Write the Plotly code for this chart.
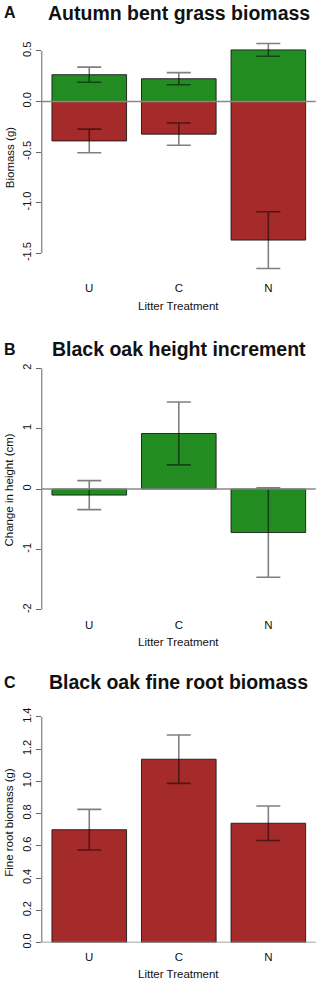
import plotly.graph_objects as go

W, H = 319, 988

categories = ["U", "C", "N"]
x_pos = [0.7, 1.9, 3.1]

# Panel A: Autumn bent grass biomass
a_green = [0.265, 0.225, 0.51]
a_green_err = [0.075, 0.06, 0.063]
a_red = [-0.39, -0.323, -1.37]
a_red_err = [0.117, 0.11, 0.28]
a_ticks = [0.5, 0.0, -0.5, -1.0, -1.5]
a_ticktext = ["0.5", "0.0", "-0.5", "-1.0", "-1.5"]

# Panel B: Black oak height increment
b_vals = [-0.1, 0.92, -0.72]
b_err = [0.24, 0.52, 0.74]
b_ticks = [2, 1, 0, -1, -2]
b_ticktext = ["2", "1", "0", "-1", "-2"]

# Panel C: Black oak fine root biomass
c_vals = [0.70, 1.137, 0.74]
c_err = [0.126, 0.15, 0.107]
c_ticks = [0.0, 0.2, 0.4, 0.6, 0.8, 1.0, 1.2, 1.4]
c_ticktext = ["0.0", "0.2", "0.4", "0.6", "0.8", "1.0", "1.2", "1.4"]

GREEN = "#228B22"
RED = "#A52A2A"
ERR = "rgba(0,0,0,0.5)"
OUTLINE = "rgba(20,20,20,0.85)"
AXIS = "#666666"
FONT = "Liberation Sans, Arial, sans-serif"


def px(x):
    return x / W


def py(y):
    return 1 - y / H


x_dom = [px(41.8), px(315.8)]
x_rng = [0.064, 3.736]

panels = [
    # (yrange, top_px, bottom_px)
    ([-1.70, 0.62], 37.06, 273.7),
    ([-2.0, 2.05], 366.2, 612.8),
    ([0.0, 1.45], 712.5, 948.3),
]

fig = go.Figure()


def bar(x, y, err, color, xa, ya):
    return go.Bar(
        x=x, y=y, width=1.0, marker=dict(color=color, line=dict(color=OUTLINE, width=1)),
        error_y=dict(type="data", array=err, visible=True, color=ERR, thickness=1.6, width=12),
        xaxis=xa, yaxis=ya, showlegend=False,
    )


fig.add_trace(bar(x_pos, a_green, a_green_err, GREEN, "x", "y"))
fig.add_trace(bar(x_pos, a_red, a_red_err, RED, "x", "y"))
fig.add_trace(bar(x_pos, b_vals, b_err, GREEN, "x2", "y2"))
fig.add_trace(bar(x_pos, c_vals, c_err, RED, "x3", "y3"))

tick_sets = [(a_ticks, a_ticktext), (b_ticks, b_ticktext), (c_ticks, c_ticktext)]

layout = dict(
    width=W, height=H, margin=dict(l=0, r=0, t=0, b=0),
    paper_bgcolor="white", plot_bgcolor="white",
    barmode="overlay", showlegend=False,
    font=dict(family=FONT, color="#111111"),
)

shapes = []
for i, ((yr, top, bot), (tv, tt)) in enumerate(zip(panels, tick_sets)):
    n = "" if i == 0 else str(i + 1)
    layout["xaxis" + n] = dict(
        domain=x_dom, range=x_rng, anchor="y" + n,
        tickvals=x_pos, ticktext=categories, ticks="outside", ticklen=4,
        tickcolor="rgba(0,0,0,0)", showline=False, showgrid=False, zeroline=False,
        tickfont=dict(size=11.5, color="#111111", family=FONT), fixedrange=True,
    )
    layout["yaxis" + n] = dict(
        domain=[py(bot), py(top)], range=yr, anchor="x" + n,
        tickvals=tv, ticktext=tt, ticks="outside", ticklen=5, tickcolor=AXIS,
        tickangle=-90, showline=False, showgrid=False, zeroline=False,
        tickfont=dict(size=11, color="#111111", family=FONT), fixedrange=True,
    )
    # zero reference line across the plot region
    shapes.append(dict(type="line", xref="x" + n + " domain", x0=0, x1=1,
                       yref="y" + n, y0=0, y1=0, line=dict(color="#888888", width=1.5)))
    # y axis line from first to last tick
    shapes.append(dict(type="line", xref="x" + n + " domain", x0=0, x1=0,
                       yref="y" + n, y0=min(tv), y1=max(tv), line=dict(color=AXIS, width=1)))

layout["shapes"] = shapes

titles = [
    ("A", "Autumn bent grass biomass", "Biomass (g)", 11, 157, 306),
    ("B", "Black oak height increment", "Change in height (cm)", 350, 492, 645),
    ("C", "Black oak fine root biomass", "Fine root biomass (g)", 686, 827, 980),
]
ann = []
for letter, title, ytitle, ty, yty, xty in titles:
    ann.append(dict(text="<b>" + letter + "</b>", x=px(9.5), y=py(ty), xref="paper", yref="paper",
                    showarrow=False, xanchor="center", yanchor="middle",
                    font=dict(size=16, family=FONT, color="#111111")))
    ann.append(dict(text="<b>" + title + "</b>", x=px(178.5), y=py(ty), xref="paper", yref="paper",
                    showarrow=False, xanchor="center", yanchor="middle",
                    font=dict(size=19.5, family=FONT, color="#111111")))
    ann.append(dict(text=ytitle, x=px(9.5), y=py(yty), xref="paper", yref="paper",
                    showarrow=False, xanchor="center", yanchor="middle", textangle=-90,
                    font=dict(size=11.5, family=FONT, color="#111111")))
    ann.append(dict(text="Litter Treatment", x=px(178.8), y=py(xty), xref="paper", yref="paper",
                    showarrow=False, xanchor="center", yanchor="middle",
                    font=dict(size=11.5, family=FONT, color="#111111")))
layout["annotations"] = ann

fig.update_layout(**layout)
fig.write_html(
    "out.html",
    config={"displayModeBar": False, "staticPlot": True},
    post_script="document.body.style.margin='0';document.body.style.padding='0';"
                "document.body.style.overflow='hidden';",
)
